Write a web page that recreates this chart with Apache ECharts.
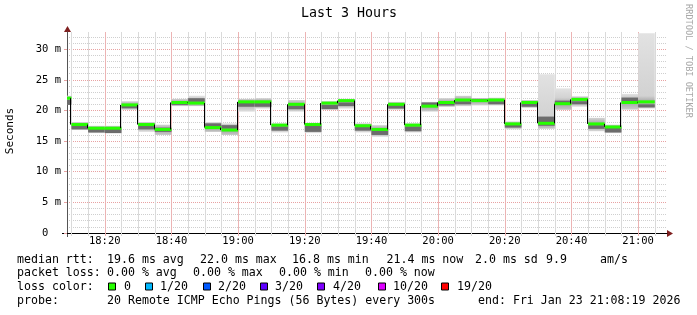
<!DOCTYPE html>
<html><head><meta charset="utf-8">
<script src="https://cdn.jsdelivr.net/npm/echarts@6/dist/echarts.min.js"></script>
<style>html,body{margin:0;padding:0;background:#fff}#c{width:697px;height:315px}</style>
</head><body><div id="c"></div>
<script>
// ---- data ----
const blockEnd = ['18:10','18:15','18:20','18:25','18:30','18:35','18:40','18:45','18:50','18:55',
  '19:00','19:05','19:10','19:15','19:20','19:25','19:30','19:35','19:40','19:45','19:50','19:55',
  '20:00','20:05','20:10','20:15','20:20','20:25','20:30','20:35','20:40','20:45','20:50','20:55','21:00','21:05'];
const median = [22.0,17.7,17.1,17.1,20.9,17.7,16.9,21.3,21.2,17.2,16.8,21.4,21.4,17.6,21.0,17.7,21.2,21.6,
  17.5,16.9,21.0,17.6,20.7,21.3,21.7,21.6,21.7,17.8,21.3,17.9,21.1,21.8,17.8,17.3,21.3,21.4];
const smokeLo = [20.9,16.8,16.3,16.3,20.1,16.5,16.0,20.7,20.7,16.5,16.0,19.8,20.3,16.4,19.8,16.3,20.1,20.3,
  16.4,15.7,20.1,16.4,19.8,20.6,20.7,20.8,20.8,16.9,20.4,17.0,20.1,20.6,16.6,16.3,20.1,20.3];
const smokeHi = [22.4,18.1,17.5,17.5,21.5,18.1,17.7,21.9,22.4,18.1,17.9,21.9,22.0,17.9,21.7,18.0,21.5,21.9,
  17.9,17.6,21.4,17.9,21.4,22.0,22.4,22.0,22.1,18.2,21.7,25.9,23.6,22.3,18.8,17.7,22.7,32.6];
const coreLo = [20.9,16.9,16.4,16.3,20.35,16.9,16.5,20.9,21.4,17.3,17.0,20.6,20.6,16.7,20.2,16.5,20.2,20.7,
  16.7,16.0,20.3,16.6,20.8,20.8,21.0,21.6,21.0,17.2,20.6,17.5,21.2,21.0,17.0,16.4,21.5,20.5];
const coreHi = [21.7,17.5,17.1,17.0,20.8,17.5,17.2,21.3,22.0,17.9,17.6,21.3,21.2,17.4,20.8,17.5,20.9,21.3,
  17.35,16.7,20.9,17.4,21.3,21.2,21.5,21.9,21.5,17.7,21.1,19.0,21.6,21.5,17.6,17.2,22.1,21.0];
const yTickValues = [0,5,10,15,20,25,30];
const xTickLabels = ['18:20','18:40','19:00','19:20','19:40','20:00','20:20','20:40','21:00'];
const xMinorTicks = ['18:10','18:15','18:25','18:30','18:35','18:45','18:50','18:55','19:05','19:10','19:15',
  '19:25','19:30','19:35','19:45','19:50','19:55','20:05','20:10','20:15','20:25','20:30','20:35',
  '20:45','20:50','20:55','21:05'];
const lossLabels = ['0','1/20','2/20','3/20','4/20','10/20','19/20'];
const lossColors = ['#26ff00','#00b8ff','#0059ff','#5e00ff','#7e00ff','#dd00ff','#ff0000'];
const statsRtt = ['19.6 ms avg','22.0 ms max','16.8 ms min','21.4 ms now','2.0 ms sd','9.9','am/s'];
const statsLoss = ['0.00 % avg','0.00 % max','0.00 % min','0.00 % now'];

// ---- helpers ----
const START = '18:08:40', SPAN = 3*3600;   // x axis: seconds since START
const toSec = s => { const p = s.split(':').map(Number), q = START.split(':').map(Number);
  return (p[0]*3600+p[1]*60+(p[2]||0)) - (q[0]*3600+q[1]*60+q[2]); };
const MONO = '"DejaVu Sans Mono", monospace';
const MINOR = '#cfcfcf', MAJOR = '#e8a2a2';
const VMINOR = '#dadada', VMAJOR = '#ecb4b4';

const blocks = blockEnd.map((e,i)=>[toSec(e)-300, toSec(e), smokeLo[i], coreLo[i], coreHi[i], smokeHi[i], median[i], i>0?median[i-1]:median[i]]);
const vgrid = xMinorTicks.map(s=>[toSec(s),0,-1]).concat(xTickLabels.map((s,i)=>[toSec(s),1,i]));

function xr(params, api){
  const cs = params.coordSys;
  const a = api.coord([api.value(0), 0])[0], b = api.coord([api.value(1), 0])[0];
  return [Math.max(a, cs.x), Math.min(b, cs.x+cs.width), a >= cs.x];
}
function renderSmoke(params, api){
  const [xa, xb] = xr(params, api);
  if (xb <= xa) return null;
  const y = v => api.coord([api.value(1), v])[1];
  const yLo = y(api.value(2)), yCLo = y(api.value(3)), yCHi = y(api.value(4)), yHi = y(api.value(5)), yMed = y(api.value(6));
  const h = Math.max(1, yLo - yHi);
  const m = Math.min(1, Math.max(0, (yMed - yHi)/h));
  const b = Math.min(0.5, 6/h);
  const grad = new echarts.graphic.LinearGradient(0,0,0,1,[
    {offset:0, color:'#e2e2e2'},
    {offset:Math.max(0,m-b), color:'#d2d2d2'},
    {offset:m, color:'#a4a4a4'},
    {offset:Math.min(1,m+b), color:'#c6c6c6'},
    {offset:1, color:'#e0e0e0'}]);
  return {type:'group', children:[
    {type:'rect', shape:{x:xa, y:yHi, width:xb-xa, height:h}, style:{fill:grad}},
    {type:'rect', shape:{x:xa, y:yCHi, width:xb-xa, height:Math.max(1,yCLo-yCHi)}, style:{fill:'#6c6c6c'}}
  ]};
}
function renderMedian(params, api){
  const [xa, xb, full] = xr(params, api);
  if (xb <= xa) return null;
  const y = v => api.coord([api.value(1), v])[1];
  const yM = y(api.value(6)), yP = y(api.value(7));
  const ch = [];
  if (full) {
    const xl = Math.round(xa) - 0.5;
    ch.push({type:'line', shape:{x1:xl, y1:yP, x2:xl, y2:yM}, style:{stroke:'#000', lineWidth:1}});
  }
  ch.push({type:'line', shape:{x1:xa, y1:yM, x2:xb, y2:yM}, style:{stroke:lossColors[0], lineWidth:3}});
  return {type:'group', children:ch};
}
function renderVGrid(params, api){
  const cs = params.coordSys;
  const xc = api.coord([api.value(0), 0])[0];
  const x = Math.round(xc) + 0.5;
  const major = api.value(1) === 1;
  const ch = [{type:'line', shape:{x1:x, y1:cs.y, x2:x, y2:cs.y+cs.height+3},
    style:{stroke: major?VMAJOR:VMINOR, lineWidth:1}}];
  if (major) ch.push({type:'text', x:xc, y:cs.y+cs.height+3,
    style:{text:xTickLabels[api.value(2)], font:'10.5px '+MONO, fill:'#000', align:'center', verticalAlign:'top'}});
  return {type:'group', children:ch};
}

// ---- graphics (text) ----
const g = [];
const txt = (text, x, y, size) => ({type:'text', x, y, silent:true,
  style:{text, font: size+'px '+MONO, fill:'#000', align:'left', verticalAlign:'middle'}});
g.push({type:'text', x:349, y:14, silent:true, style:{text:'Last 3 Hours', font:'13.3px '+MONO, fill:'#000', align:'center', verticalAlign:'middle'}});
g.push({type:'text', x:10, y:131, rotation:Math.PI/2, silent:true,
  style:{text:'Seconds', font:'11px '+MONO, fill:'#000', align:'center', verticalAlign:'middle'}});
g.push({type:'text', x:688.5, y:61, rotation:-Math.PI/2, silent:true,
  style:{text:'RRDTOOL / TOBI OETIKER', font:'8.6px '+MONO, fill:'#a8a8a8', align:'center', verticalAlign:'middle'}});
const LS = 11.6;
const rttX = [107,200,292,386.5,475,546,600];
g.push(txt('median rtt:', 17, 259.5, LS));
statsRtt.forEach((s,i)=>g.push(txt(s, rttX[i], 259.5, LS)));
const lossX = [107,193,279,365];
g.push(txt('packet loss:', 17, 273, LS));
statsLoss.forEach((s,i)=>g.push(txt(s, lossX[i], 273, LS)));
g.push(txt('loss color:', 17, 287, LS));
const boxX = [108.5,145.5,203.5,260.5,317.5,378.5,441.5];
const labX = [124,160,218,275,333,393,457];
lossLabels.forEach((s,i)=>{
  g.push({type:'rect', silent:true, shape:{x:boxX[i], y:283, width:7, height:7}, style:{fill:lossColors[i], stroke:'#000', lineWidth:1}});
  g.push(txt(s, labX[i], 287, LS));
});
g.push(txt('probe:', 17, 300.5, LS));
g.push(txt('20 Remote ICMP Echo Pings (56 Bytes) every 300s', 107, 300.5, LS));
g.push(txt('end: Fri Jan 23 21:08:19 2026', 478, 300.5, LS));
// axis arrows / axis extensions
g.push({type:'polygon', silent:true, shape:{points:[[64,32],[67.5,26],[71,32]]}, style:{fill:'#7f1f1f'}});
g.push({type:'polygon', silent:true, shape:{points:[[667,230],[673,233.5],[667,237]]}, style:{fill:'#7f1f1f'}});
g.push({type:'line', silent:true, shape:{x1:67.5,y1:233,x2:67.5,y2:237}, style:{stroke:'#555',lineWidth:1}});
g.push({type:'line', silent:true, shape:{x1:62,y1:233.5,x2:67,y2:233.5}, style:{stroke:'#000',lineWidth:1}});

const minorLine = {show:true, showMinLine:false, showMaxLine:false, lineStyle:{color:MINOR, width:1, type:[1,1]}};
const majorLine = {show:true, showMinLine:false, showMaxLine:false, lineStyle:{color:MAJOR, width:1, type:[1,1]}};

const option = {
  animation:false,
  backgroundColor:'#fff',
  grid:{left:67, right:30, top:32, bottom:82, containLabel:false},
  xAxis:[
    {type:'value', position:'bottom', min:0, max:SPAN,
     axisLine:{show:true, onZero:false, lineStyle:{color:'#000', width:1}},
     axisTick:{show:false}, axisLabel:{show:false}, splitLine:{show:false}}
  ],
  yAxis:[
    {type:'value', position:'left', min:0, max:32.8, interval:1,
     axisLine:{show:false}, axisTick:{show:false}, axisLabel:{show:false}, splitLine:minorLine},
    {type:'value', position:'left', min:0, max:32.8, interval:5,
     axisLine:{show:true, onZero:false, lineStyle:{color:'#555', width:1}},
     axisTick:{show:true, length:3, lineStyle:{color:MAJOR}},
     axisLabel:{show:true, margin:6, showMaxLabel:false, fontFamily:MONO, fontSize:10.5, color:'#000',
       formatter:v=> yTickValues.includes(v) ? (v===0 ? '0  ' : v+' m') : ''},
     splitLine:majorLine}
  ],
  series:[
    {type:'custom', name:'vgrid', xAxisIndex:0, yAxisIndex:1, renderItem:renderVGrid, data:vgrid,
     encode:{x:0, y:1}, clip:false, silent:true, z:1},
    {type:'custom', name:'smoke', xAxisIndex:0, yAxisIndex:1, renderItem:renderSmoke, data:blocks,
     encode:{x:[0,1], y:[2,5]}, clip:true, silent:true, z:2},
    {type:'custom', name:'median', xAxisIndex:0, yAxisIndex:1, renderItem:renderMedian, data:blocks,
     encode:{x:[0,1], y:[6,7]}, clip:true, silent:true, z:3}
  ],
  graphic:g
};
const chart = echarts.init(document.getElementById('c'), null, {renderer:'canvas'});
chart.setOption(option);
</script>
</body></html>
